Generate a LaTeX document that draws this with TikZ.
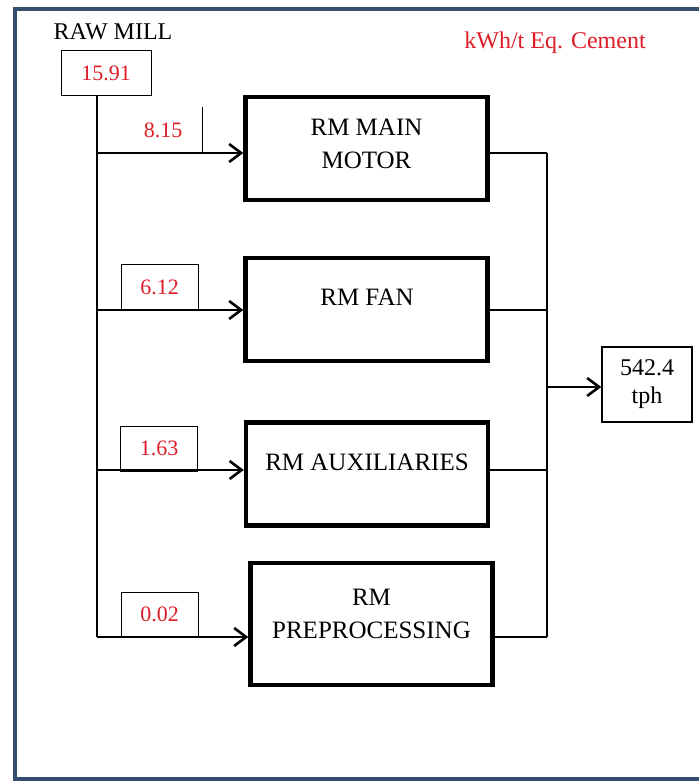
\documentclass[tikz,border=0pt]{standalone}
\usepackage{fontspec}
\setmainfont{Liberation Serif}
\usepackage{xcolor}
\usetikzlibrary{positioning, arrows.meta, calc}

\definecolor{framecol}{RGB}{52,78,110}
\definecolor{valred}{RGB}{222,28,40}

\begin{document}
\begin{tikzpicture}[
    x=0.5pt, y=-0.5pt,
    every node/.style={font=\fontsize{12}{14}\selectfont},
    unit/.style={draw, line width=2.2pt, minimum width=121pt,
                 minimum height=51.5pt, inner sep=0pt},
    unittext/.style={align=center, font=\fontsize{12.5}{16.5}\selectfont},
    value/.style={draw, line width=0.5pt, minimum width=38.5pt,
                  minimum height=22.5pt, inner sep=0pt, text=valred,
                  font=\fontsize{11}{13}\selectfont},
    total/.style={draw, line width=0.7pt, minimum width=45pt,
                  minimum height=37.5pt, inner sep=0pt, align=center},
    feed/.style={line width=1pt},
    arrow/.style={-{Straight Barb[length=6pt, width=9pt]}, line width=1.3pt},
]
\useasboundingbox (0,0) rectangle (699,781);

% Frame
\draw[framecol, line width=2pt] (710,9) -- (15,9) -- (15,779) -- (710,779);

% Raw mill input
\node (title) at (113,32) {RAW MILL};
\node[value, minimum width=45pt] (input) at (106,73) {15.91};
\node[text=valred] (unitlbl) at (555,43) {kWh/t Eq. Cement};

% Sections
\node[unit] (motor) at (366.5,148.5) {};
\node[unittext] (motortxt) at (366.5,143.5) {RM MAIN\\MOTOR};
\node[unit] (fan) at (366.5,309.5) {};
\node[unittext] (fantxt) at (367,297) {RM FAN};
\node[unit] (aux) at (367,474) {};
\node[unittext] (auxtxt) at (367,462) {RM AUXILIARIES};
\node[unit, minimum height=61pt] (prep) at (371.5,624) {};
\node[unittext] (preptxt) at (371.5,613.5) {RM\\PREPROCESSING};

% Output
\node[total] (out) at (647,384.5) {542.4\\tph};

% Feed points on the trunk
\coordinate (t1) at (97,153);
\coordinate (t2) at (97,310);
\coordinate (t3) at (97,470);
\coordinate (t4) at (97,637);
\coordinate (bus) at (547,387);

% Values
\node[value, draw=none] (v1) at (163,130) {8.15};
\node[value] (v2) at (159.5,287) {6.12};
\node[value] (v3) at (159,448.5) {1.63};
\node[value] (v4) at (159.5,614.5) {0.02};
\draw[line width=0.5pt] (v1.north east) -- (v1.south east);

% Arrows
\draw[feed] (input.south -| t1) -- (t4);
\draw[arrow] (t1) -- (t1 -| motor.west);
\draw[arrow] (t2) -- (t2 -| fan.west);
\draw[arrow] (t3) -- (t3 -| aux.west);
\draw[arrow] (t4) -- (t4 -| prep.west);
\draw[feed] (t1 -| motor.east) -- (t1 -| bus);
\draw[feed] (t2 -| fan.east) -- (t2 -| bus);
\draw[feed] (t3 -| aux.east) -- (t3 -| bus);
\draw[feed] (t4 -| prep.east) -- (t4 -| bus);
\draw[feed] (t1 -| bus) -- (t4 -| bus);
\draw[arrow] (bus) -- (bus -| out.west);

\end{tikzpicture}
\end{document}
